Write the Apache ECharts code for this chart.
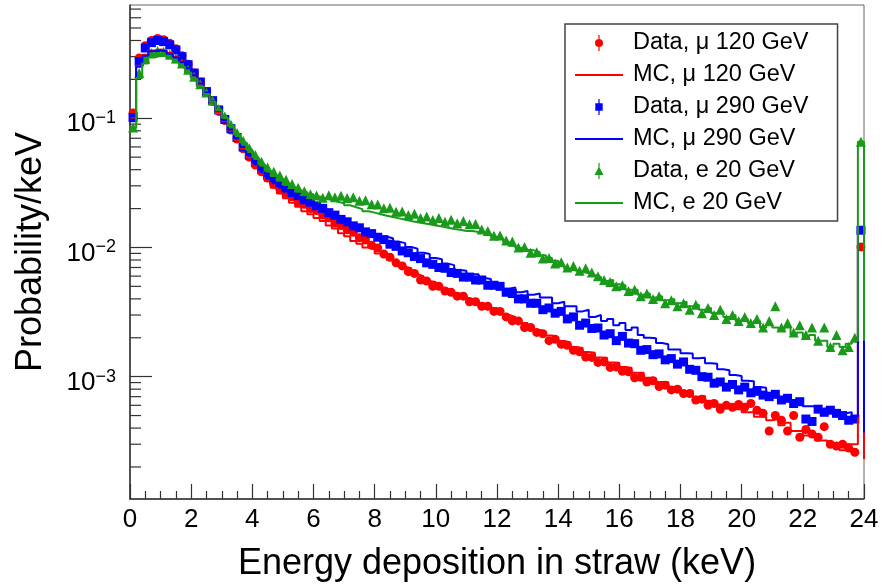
<!DOCTYPE html>
<html><head><meta charset="utf-8">
<script src="https://cdn.jsdelivr.net/npm/echarts@6/dist/echarts.min.js"></script>
<style>html,body{margin:0;padding:0;background:#fff;}#c{width:890px;height:587px;}</style>
</head><body><div id="c"></div>
<script>
// ---- binning / axes ----
const BIN_WIDTH = 0.2;          // keV
const X_MIN = 0, X_MAX = 24, X_INTERVAL = 2;
const Y_MIN = 1.13e-4, Y_MAX = 0.753;
const Y_TICK_EXPONENTS = [-3, -2, -1];
const X_TITLE = 'Energy deposition in straw (keV)';
const Y_TITLE = 'Probability/keV';
const NAMES = ['Data, μ 120 GeV', 'MC, μ 120 GeV', 'Data, μ 290 GeV', 'MC, μ 290 GeV', 'Data, e 20 GeV', 'MC, e 20 GeV'];

// ---- values per 0.2 keV bin (120 bins, 0-24 keV) ----
const DATA_MU120 = [
0.110,0.293,0.365,0.400,0.415, 0.405,0.380,0.345,0.305,0.262,
0.224,0.190,0.160,0.135,0.113, 0.096,0.081,0.069,0.058,0.050,
0.0435,0.0385,0.0345,0.031,0.0285, 0.0262,0.0247,0.0226,0.0216,0.0200,
0.0193,0.0178,0.0170,0.0155,0.0148, 0.0137,0.0131,0.0119,0.0114,0.0104,
0.0099,0.0089,0.0084,0.0076,0.0072, 0.0065,0.0063,0.0056,0.0055,0.0050,
0.0050,0.0046,0.0045,0.0042,0.0042, 0.0038,0.0038,0.0035,0.0035,0.0032,
0.0032,0.0029,0.0027,0.0027,0.0024, 0.0024,0.0022,0.00215,0.0019,0.00195,
0.00178,0.00175,0.00160,0.00156,0.00142, 0.00141,0.00129,0.00130,0.00118,0.00119,
0.00110,0.00109,0.00098,0.00099,0.00091, 0.00093,0.00084,0.00086,0.00079,0.00080,
0.00074,0.00074,0.00066,0.00067,0.00060, 0.00062,0.00056,0.00060,0.00058,0.00061,
0.00058,0.00062,0.00055,0.00052,0.00038, 0.00050,0.00046,0.00038,0.00050,0.00034,
0.00039,0.00036,0.00034,0.00041,0.00030, 0.00029,0.00030,0.00028,0.00026,0.0101];
const MC_MU120 = [
0.100,0.255,0.310,0.335,0.340, 0.335,0.320,0.300,0.275,0.245,
0.215,0.185,0.157,0.133,0.112, 0.095,0.080,0.068,0.058,0.0495,
0.0425,0.0370,0.0327,0.0290,0.0262, 0.0240,0.0222,0.0207,0.0191,0.0181,
0.0169,0.0160,0.0148,0.0140,0.0129, 0.0122,0.0112,0.0107,0.0100,0.0097,
0.0090,0.0087,0.0080,0.0077,0.0071, 0.0069,0.0062,0.0060,0.0055,0.0054,
0.0050,0.0048,0.0044,0.0044,0.0041, 0.0040,0.0037,0.0037,0.0034,0.0034,
0.0032,0.0030,0.0029,0.0027,0.0026, 0.00245,0.00230,0.00222,0.00208,0.00201,
0.00189,0.00184,0.00170,0.00167,0.00155, 0.00153,0.00141,0.00140,0.00129,0.00128,
0.00119,0.00117,0.00107,0.00107,0.00098, 0.00097,0.00091,0.00091,0.00083,0.00083,
0.00077,0.00078,0.00070,0.00071,0.00065, 0.00064,0.00061,0.00059,0.00056,0.00056,
0.00053,0.00053,0.00049,0.00049,0.00046, 0.00047,0.00042,0.00044,0.00038,0.00038,
0.00035,0.00035,0.00032,0.00032,0.00029, 0.00029,0.00027,0.00030,0.00030,0.0098];
const MC_MU120_NEXT = 0.00023;   // first bin beyond 24 keV (clipped)
const DATA_MU290 = [
0.101,0.274,0.350,0.385,0.400, 0.392,0.370,0.338,0.300,0.260,
0.224,0.191,0.161,0.137,0.116, 0.098,0.083,0.071,0.060,0.052,
0.0455,0.0405,0.0365,0.0335,0.0310, 0.0288,0.0266,0.0252,0.0234,0.0224,
0.0210,0.0201,0.0186,0.0178,0.0165, 0.0158,0.0147,0.0142,0.0132,0.0128,
0.0120,0.0115,0.0106,0.0102,0.0094, 0.0091,0.0085,0.0082,0.0076,0.0074,
0.0070,0.0069,0.0064,0.0063,0.0059, 0.0059,0.0056,0.0056,0.0051,0.0051,
0.0050,0.0045,0.0044,0.0040,0.0040, 0.0037,0.0037,0.0033,0.0034,0.0031,
0.0032,0.0028,0.0029,0.0025,0.0026, 0.00236,0.00238,0.0021,0.00215,0.0019,
0.00205,0.00182,0.00180,0.0016,0.00162, 0.00148,0.0015,0.00135,0.00138,0.00125,
0.00130,0.00114,0.00112,0.00100,0.00099, 0.00089,0.00091,0.00083,0.00087,0.00079,
0.00083,0.00075,0.00077,0.00072,0.00070, 0.00073,0.00066,0.00068,0.00062,0.00064,
0.00047,0.00045,0.00056,0.00053,0.00055, 0.00052,0.00050,0.00046,0.00047,0.0136];
const MC_MU290 = [
0.098,0.250,0.305,0.330,0.335, 0.330,0.316,0.296,0.272,0.244,
0.215,0.186,0.158,0.135,0.115, 0.097,0.082,0.070,0.060,0.052,
0.0455,0.0400,0.0358,0.0325,0.0298, 0.0278,0.0262,0.0244,0.0232,0.0217,
0.0208,0.0195,0.0186,0.0173,0.0165, 0.0154,0.0147,0.0138,0.0134,0.0127,
0.0127,0.0121,0.0118,0.0111,0.0108, 0.0101,0.0098,0.0091,0.0089,0.0083,
0.0081,0.0075,0.0073,0.0067,0.0066, 0.0062,0.0062,0.0058,0.0057,0.0052,
0.0052,0.0048,0.0049,0.0045,0.0046, 0.0043,0.0044,0.0041,0.0041,0.0037,
0.0038,0.0035,0.0035,0.0032,0.0033, 0.0029,0.0030,0.0027,0.0028,0.0025,
0.0026,0.0023,0.0024,0.0021,0.0020, 0.00198,0.00182,0.00178,0.00162,0.00162,
0.00152,0.00151,0.00139,0.00140,0.00127, 0.00126,0.00114,0.00112,0.00103,0.00101,
0.00093,0.00092,0.00083,0.00082,0.00075, 0.00074,0.00069,0.00068,0.00063,0.00063,
0.00059,0.00059,0.00056,0.00057,0.00054, 0.00055,0.00052,0.00053,0.00049,0.0136];
const MC_MU290_NEXT = 0.00037;
const DATA_E20 = [
0.085,0.224,0.290,0.320,0.332, 0.328,0.312,0.290,0.265,0.238,
0.210,0.183,0.158,0.137,0.118, 0.103,0.089,0.077,0.067,0.059,
0.052,0.046,0.0415,0.0385,0.0360, 0.0335,0.0310,0.0290,0.0272,0.0258,
0.0252,0.0243,0.0254,0.0245,0.0251, 0.0241,0.0245,0.0230,0.0232,0.0216,
0.0215,0.0201,0.0203,0.0189,0.0190, 0.0178,0.0182,0.0169,0.0174,0.0163,
0.0169,0.0158,0.0164,0.0154,0.0160, 0.0151,0.0152,0.0138,0.0134,0.0123,
0.0124,0.0113,0.0111,0.0100,0.0101, 0.0091,0.0092,0.0082,0.0083,0.0075,
0.0077,0.0070,0.0072,0.0066,0.0069, 0.0064,0.0060,0.0056,0.0054,0.0050,
0.0051,0.0046,0.0047,0.0042,0.0044, 0.0040,0.0042,0.0037,0.0039,0.0035,
0.0037,0.0033,0.0036,0.0031,0.0034, 0.0030,0.0033,0.0028,0.0030,0.0027,
0.0029,0.0026,0.0028,0.0024,0.0027, 0.0035,0.0024,0.0026,0.0022,0.0025,
0.0021,0.0024,0.0019,0.0024,0.0017, 0.0021,0.0016,0.0017,0.0020,0.0657];
const MC_E20 = [
0.084,0.205,0.265,0.295,0.305, 0.302,0.290,0.272,0.250,0.226,
0.202,0.177,0.154,0.134,0.116, 0.101,0.087,0.075,0.065,0.057,
0.050,0.044,0.0395,0.0358,0.0328, 0.0305,0.0290,0.0278,0.0268,0.0258,
0.0248,0.0240,0.0233,0.0226,0.0220, 0.0212,0.0205,0.0198,0.0191,0.0186,
0.0181,0.0176,0.0172,0.0168,0.0164, 0.0160,0.0157,0.0154,0.0151,0.0148,
0.0145,0.0142,0.0139,0.0137,0.0134, 0.0134,0.0132,0.0131,0.0127,0.0121,
0.0117,0.0110,0.0103,0.0099,0.0096, 0.0095,0.0092,0.0087,0.0083,0.0079,
0.0072,0.0068,0.0066,0.0065,0.0063, 0.0061,0.0059,0.0055,0.0056,0.0052,
0.0051,0.0047,0.0047,0.0043,0.0044, 0.0041,0.0042,0.0039,0.0040,0.0037,
0.0038,0.0035,0.0036,0.0033,0.0034, 0.0031,0.0032,0.0029,0.0030,0.0027,
0.0028,0.0026,0.0027,0.0024,0.0025, 0.0024,0.0023,0.0024,0.0021,0.0022,
0.0020,0.0021,0.0019,0.0019,0.0017, 0.0018,0.0017,0.0018,0.0019,0.0657];
const MC_E20_NEXT = 0.0019;

// ---- style ----
const FONT = '"Liberation Sans", Arial, Helvetica, sans-serif';
const RED = '#ff0000', BLUE = '#0000ff', GREEN = '#1a9a1a';
const AXIS = '#333';

function dataPoints(vals) { return vals.map((v, i) => [(i + 0.5) * BIN_WIDTH, v]); }
function histPoints(vals, next) {
  const pts = vals.map((v, i) => [i * BIN_WIDTH, v]);
  pts.push([vals.length * BIN_WIDTH, vals[vals.length - 1]]);
  pts.push([vals.length * BIN_WIDTH, next]);
  return pts;
}
const minorTicks = [];
for (let e = -4; e <= 0; e++) for (let k = 2; k <= 9; k++) {
  const v = k * Math.pow(10, e);
  if (v > Y_MIN && v < Y_MAX) minorTicks.push([0, v]);
}

const BAR = 'M3.4,0 L4.6,0 L4.6,16 L3.4,16 Z';
const ICON_CIRCLE = 'path://M0,8 A4,4 0 1 1 8,8 A4,4 0 1 1 0,8 Z ' + BAR;
const ICON_SQUARE = 'path://M0.3,4.3 L7.7,4.3 L7.7,11.7 L0.3,11.7 Z ' + BAR;
const ICON_TRI = 'path://M4,3.5 L8.5,12 L-0.5,12 Z ' + BAR;
const ICON_LINE = 'path://M0,0 L48,0 L48,2 L0,2 Z';

function scatter(name, vals, color, symbol, size) {
  return { name, type: 'scatter', data: dataPoints(vals), symbol, symbolSize: size,
    itemStyle: { color, opacity: 1 }, z: 3, silent: true };
}
function hist(name, vals, next, color) {
  return { name, type: 'line', step: 'end', data: histPoints(vals, next), symbol: 'none',
    lineStyle: { color, width: 2 }, itemStyle: { color }, z: 4, silent: true, clip: true };
}

const chart = echarts.init(document.getElementById('c'), null, { renderer: 'canvas' });
chart.setOption({
  animation: false,
  backgroundColor: '#fff',
  textStyle: { fontFamily: FONT },
  grid: { left: 130, right: 26, top: 5, bottom: 88, show: true, borderColor: '#666', borderWidth: 1,
          outerBoundsMode: 'none', containLabel: false },
  legend: {
    orient: 'vertical', left: 565, top: 24, selectedMode: false,
    itemWidth: 48, itemHeight: 16, itemGap: 8,
    padding: [7, 29, 6, 10],
    borderColor: '#444', borderWidth: 1.5,
    textStyle: { fontFamily: FONT, fontSize: 23.5, color: '#000', padding: [0, 0, 0, 5] },
    data: [
      { name: NAMES[0], icon: ICON_CIRCLE },
      { name: NAMES[1], icon: ICON_LINE },
      { name: NAMES[2], icon: ICON_SQUARE },
      { name: NAMES[3], icon: ICON_LINE },
      { name: NAMES[4], icon: ICON_TRI },
      { name: NAMES[5], icon: ICON_LINE }
    ]
  },
  xAxis: {
    type: 'value', min: X_MIN, max: X_MAX, interval: X_INTERVAL,
    name: X_TITLE, nameLocation: 'middle', nameGap: 47,
    nameTextStyle: { fontFamily: FONT, fontSize: 36, color: '#000' },
    axisLine: { lineStyle: { color: AXIS, width: 1.5 } },
    axisTick: { inside: true, length: 15, lineStyle: { color: AXIS, width: 1.2 } },
    minorTick: { show: true, splitNumber: 4, length: 8, lineStyle: { color: AXIS, width: 1.2 } },
    axisLabel: { fontFamily: FONT, fontSize: 26, color: '#000', margin: 8 },
    splitLine: { show: false }
  },
  yAxis: {
    type: 'log', logBase: 10, min: Y_MIN, max: Y_MAX, splitNumber: 5,
    name: Y_TITLE, nameLocation: 'middle', nameRotate: 90, nameGap: 81,
    nameTextStyle: { fontFamily: FONT, fontSize: 36, color: '#000' },
    axisLine: { lineStyle: { color: AXIS, width: 1.5 } },
    axisTick: { inside: true, length: 22, lineStyle: { color: AXIS, width: 1.2 } },
    splitLine: { show: false },
    axisLabel: {
      showMinLabel: false, showMaxLabel: false, margin: 14, padding: [12, 0, 0, 0],
      formatter: function (v) {
        const l = Math.log10(v), e = Math.round(l);
        if (Math.abs(l - e) > 1e-6 || Y_TICK_EXPONENTS.indexOf(e) < 0) return '';
        return '{b|10}{s|\u2212' + (-e) + '}';
      },
      rich: {
        b: { fontFamily: FONT, fontSize: 26, lineHeight: 30, color: '#000' },
        s: { fontFamily: FONT, fontSize: 18, lineHeight: 14, verticalAlign: 'top', color: '#000' }
      }
    }
  },
  series: [
    { type: 'custom', silent: true, z: 2, data: minorTicks,
      renderItem: function (params, api) {
        const p = api.coord([api.value(0), api.value(1)]);
        return { type: 'line', shape: { x1: p[0], y1: p[1], x2: p[0] + 11, y2: p[1] },
                 style: { stroke: AXIS, lineWidth: 1.2 } };
      } },
    scatter(NAMES[0], DATA_MU120, RED, 'circle', 9),
    hist(NAMES[1], MC_MU120, MC_MU120_NEXT, RED),
    scatter(NAMES[2], DATA_MU290, BLUE, 'rect', 9),
    hist(NAMES[3], MC_MU290, MC_MU290_NEXT, BLUE),
    scatter(NAMES[4], DATA_E20, GREEN, 'triangle', 10),
    hist(NAMES[5], MC_E20, MC_E20_NEXT, GREEN)
  ]
});
</script></body></html>
